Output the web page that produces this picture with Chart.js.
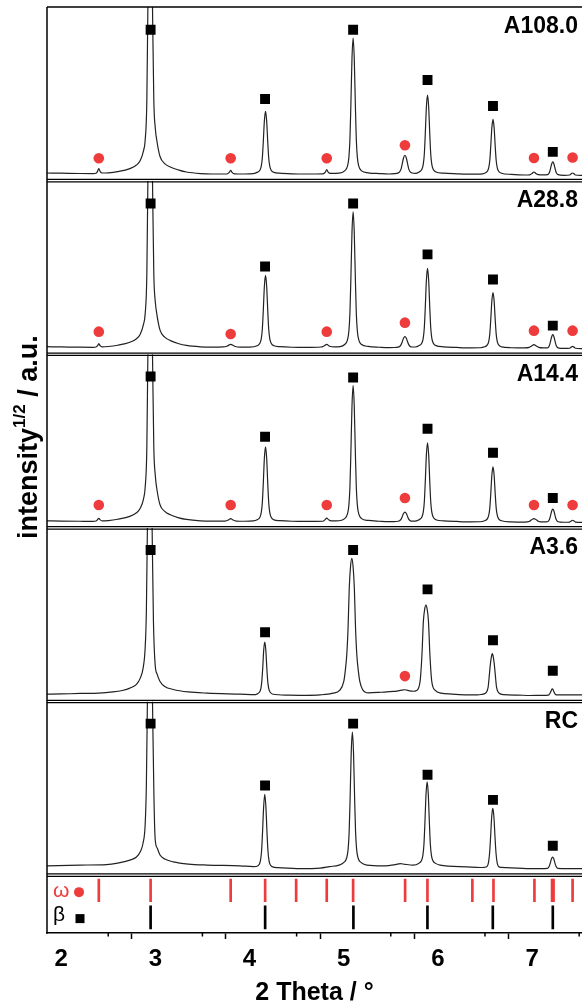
<!DOCTYPE html>
<html>
<head>
<meta charset="utf-8">
<script src="https://cdn.jsdelivr.net/npm/chart.js@4.4.1/dist/chart.umd.min.js"></script>
<style>
  html, body { margin: 0; padding: 0; background: #fff; overflow: hidden; }
  #wrap { position: relative; width: 582px; height: 1006px; }
</style>
</head>
<body>
<div id="wrap"><canvas id="xrd"></canvas></div>
<script>
// ---- data (2 theta in degrees, sqrt intensity in a.u.) ----
var panelLabels = ['A108.0', 'A28.8', 'A14.4', 'A3.6', 'RC'];

var a108 = [[1.85,7.6],[2.0,7.4],[2.2,7.1],[2.34,7.0],[2.37,7.4],[2.385,9],[2.40,12],[2.415,9],[2.435,7.6],[2.5,7.8],[2.6,9.0],[2.73,12],[2.8,15.5],[2.84,20],[2.875,30],[2.892,40],[2.91,80],[2.921,173],[2.945,320],[2.97,173],[2.984,80],[3.0,52],[3.016,40],[3.05,24],[3.1,17],[3.16,13.6],[3.25,10.5],[3.33,8.6],[3.48,7.0],[3.6,6.6],[3.76,6.6],[3.785,8.2],[3.8,10.3],[3.815,8.2],[3.84,6.8],[3.95,6.6],[4.04,7.0],
  [4.08,8.2],[4.11,10.4],[4.125,14.4],[4.136,22.5],[4.146,38],[4.158,59.7],[4.17,69],[4.182,59.7],[4.194,38],[4.204,22.5],[4.215,14.4],[4.23,10.4],[4.26,8.2],
  [4.32,7.4],[4.45,6.8],[4.6,6.6],[4.78,6.8],[4.805,8.5],[4.82,11],[4.835,8.5],[4.86,7.2],[4.95,7.4],
  [5.01,9.7],[5.04,14.4],[5.055,23.2],[5.066,40.8],[5.076,74.5],[5.088,121.8],[5.1,142],[5.112,121.8],[5.124,74.5],[5.134,40.8],[5.145,23.2],[5.16,14.4],[5.19,9.7],
  [5.26,7.8],[5.38,7.0],[5.48,6.6],
  [5.54,6.9],[5.575,7.5],[5.594,8.8],[5.608,11.2],[5.62,15.9],[5.635,22.5],[5.65,25.3],[5.665,22.5],[5.68,15.9],[5.692,11.2],[5.706,8.8],[5.725,7.6],[5.76,7.2],
  [5.8,8.6],[5.83,11.3],[5.845,16.4],[5.856,26.6],[5.866,46.2],[5.878,73.6],[5.89,85.3],[5.902,73.6],[5.914,46.2],[5.924,26.6],[5.935,16.4],[5.95,11.3],[5.98,8.6],
  [6.06,7.4],[6.2,6.8],[6.35,6.4],[6.45,6.5],
  [6.495,7.4],[6.525,9.3],[6.54,12.9],[6.551,20],[6.561,33.7],[6.573,52.8],[6.585,61],[6.597,52.8],[6.609,33.7],[6.619,20],[6.63,12.9],[6.645,9.3],[6.675,7.4],
  [6.78,6.2],[6.92,5.6],[6.975,5.8],[7.0,7.2],[7.02,8.6],[7.04,7.2],[7.065,6.0],[7.12,5.7],
  [7.165,6.0],[7.184,8.1],[7.196,12.1],[7.208,16.6],[7.22,18.6],[7.232,16.6],[7.244,12.1],[7.256,8.1],[7.275,6.0],
  [7.34,5.3],[7.40,5.6],[7.415,6.8],[7.43,7.6],[7.445,6.8],[7.46,5.6],[7.53,5.2]];

var a288 = [[1.85,7.5],[2.0,7.3],[2.2,7.0],[2.34,6.9],[2.37,7.2],[2.385,8.3],[2.40,10.5],[2.415,8.3],[2.435,7.4],[2.5,7.7],[2.6,9.0],[2.73,12],[2.8,15.5],[2.84,20],[2.875,30],[2.892,40],[2.91,80],[2.921,173],[2.945,320],[2.97,173],[2.984,80],[3.0,52],[3.016,40],[3.05,24],[3.1,17],[3.16,13.6],[3.25,10.5],[3.33,8.8],[3.48,7.4],[3.6,7.1],[3.72,7.3],[3.76,8.0],[3.8,9.8],[3.84,8.0],[3.9,7.1],[4.0,7.1],
  [4.08,8.4],[4.11,10.9],[4.125,15.6],[4.136,24.9],[4.146,42.8],[4.158,67.8],[4.17,78.5],[4.182,67.8],[4.194,42.8],[4.204,24.9],[4.215,15.6],[4.23,10.9],[4.26,8.4],
  [4.32,7.6],[4.45,7.0],[4.6,6.8],[4.76,7.2],[4.79,8.2],[4.82,9.8],[4.85,8.0],[4.9,7.3],[4.96,7.6],
  [5.01,9.7],[5.04,14.4],[5.055,23.2],[5.066,40.7],[5.076,74.4],[5.088,121.6],[5.1,141.8],[5.112,121.6],[5.124,74.4],[5.134,40.7],[5.145,23.2],[5.16,14.4],[5.19,9.7],
  [5.26,7.8],[5.38,7.0],[5.48,6.6],
  [5.54,6.7],[5.575,7.1],[5.594,7.8],[5.608,9.3],[5.62,12],[5.635,15.9],[5.65,17.5],[5.665,15.9],[5.68,12],[5.692,9.3],[5.706,7.8],[5.725,7.2],[5.76,7.2],
  [5.8,8.6],[5.83,11.3],[5.845,16.4],[5.856,26.6],[5.866,46.3],[5.878,73.7],[5.89,85.5],[5.902,73.7],[5.914,46.3],[5.924,26.6],[5.935,16.4],[5.95,11.3],[5.98,8.6],
  [6.06,7.4],[6.2,6.8],[6.35,6.4],[6.45,6.5],
  [6.495,7.4],[6.525,9.3],[6.54,12.9],[6.551,20.1],[6.561,33.9],[6.573,53.2],[6.585,61.5],[6.597,53.2],[6.609,33.9],[6.619,20.1],[6.63,12.9],[6.645,9.3],[6.675,7.4],
  [6.78,6.5],[6.92,6.3],[6.97,6.8],[6.995,8.2],[7.02,9.5],[7.045,8.2],[7.07,6.8],[7.12,6.3],
  [7.165,6.4],[7.184,8.7],[7.196,12.8],[7.208,17.5],[7.22,19.5],[7.232,17.5],[7.244,12.8],[7.256,8.7],[7.275,6.4],
  [7.34,5.8],[7.40,6.0],[7.415,7.1],[7.43,7.8],[7.445,7.1],[7.46,6.0],[7.53,5.6]];

var a144 = [[1.85,7.0],[2.0,6.8],[2.2,6.6],[2.34,6.5],[2.37,6.8],[2.385,8.0],[2.40,9.5],[2.415,8.0],[2.435,7.0],[2.5,7.3],[2.6,8.6],[2.73,11.5],[2.8,15],[2.84,19.5],[2.875,29],[2.892,40],[2.91,80],[2.921,173],[2.945,320],[2.97,173],[2.984,80],[3.0,52],[3.016,39],[3.05,23],[3.1,16.5],[3.16,13],[3.25,10],[3.33,8.4],[3.48,7.0],[3.6,6.7],[3.74,6.8],[3.775,7.8],[3.8,9.2],[3.825,7.8],[3.86,6.8],[3.95,6.6],[4.04,6.9],
  [4.08,8.0],[4.11,10.6],[4.125,15.4],[4.136,25.1],[4.146,43.6],[4.158,69.6],[4.17,80.75],[4.182,69.6],[4.194,43.6],[4.204,25.1],[4.215,15.4],[4.23,10.6],[4.26,8.0],
  [4.32,7.2],[4.45,6.6],[4.6,6.4],[4.78,6.6],[4.8,8.0],[4.82,9.8],[4.84,8.0],[4.87,6.9],[4.95,7.1],
  [5.01,9.2],[5.04,13.9],[5.055,22.7],[5.066,40.3],[5.076,74.1],[5.088,121.5],[5.1,141.75],[5.112,121.5],[5.124,74.1],[5.134,40.3],[5.145,22.7],[5.16,13.9],[5.19,9.2],
  [5.26,7.4],[5.38,6.6],[5.48,6.2],
  [5.54,6.3],[5.575,6.6],[5.594,7.2],[5.608,8.4],[5.62,10.9],[5.635,14.3],[5.65,15.75],[5.665,14.3],[5.68,10.9],[5.692,8.4],[5.706,7.2],[5.725,6.7],[5.76,6.8],
  [5.8,8.1],[5.83,10.8],[5.845,15.9],[5.856,26.1],[5.866,45.6],[5.878,73],[5.89,84.75],[5.902,73],[5.914,45.6],[5.924,26.1],[5.935,15.9],[5.95,10.8],[5.98,8.1],
  [6.06,7.0],[6.2,6.4],[6.35,6.0],[6.45,6.1],
  [6.495,7.1],[6.525,9.0],[6.54,12.6],[6.551,19.7],[6.561,33.4],[6.573,52.5],[6.585,60.75],[6.597,52.5],[6.609,33.4],[6.619,19.7],[6.63,12.6],[6.645,9.0],[6.675,7.1],
  [6.78,6.0],[6.92,5.8],[6.97,6.3],[6.995,8.0],[7.02,9.3],[7.045,8.0],[7.07,6.4],[7.12,5.9],
  [7.165,6.1],[7.184,8.3],[7.196,12.2],[7.208,16.75],[7.22,18.75],[7.232,16.75],[7.244,12.2],[7.256,8.3],[7.275,6.1],
  [7.34,5.6],[7.40,5.8],[7.415,6.9],[7.43,7.6],[7.445,6.9],[7.46,5.8],[7.53,5.5]];

var a36 = [[1.85,7.3],[2.0,7.5],[2.2,8.0],[2.4,8.3],[2.55,9.5],[2.65,11],[2.73,13.3],[2.8,17],[2.84,23.3],[2.87,33],[2.892,53.3],[2.905,90],[2.916,173],[2.942,320],[2.966,173],[2.98,80],[2.998,37],[3.02,27],[3.05,20],[3.1,15],[3.19,12],[3.35,9.5],[3.55,8.3],[3.9,7.3],[4.06,6.8],
  [4.075,7.3],[4.105,9.2],[4.12,12.5],[4.13,19.5],[4.14,32.9],[4.151,51.4],[4.162,59.3],[4.173,51.4],[4.184,32.9],[4.194,19.5],[4.205,12.5],[4.22,9.2],[4.25,7.2],
  [4.4,6.4],[4.6,6.2],[4.75,6.6],[4.887,8.3],
  [4.956,11],[5.001,20],[5.016,30],[5.033,47],[5.047,75],[5.059,113],[5.073,135],[5.086,142.7],[5.099,135],[5.113,113],[5.125,75],[5.139,47],[5.156,30],[5.171,20],[5.2,12],[5.26,8.6],
  [5.4,9.2],[5.53,10],[5.6,11],[5.65,11.7],[5.7,10.6],[5.74,10.2],
  [5.773,11],[5.811,20],[5.831,47],[5.846,80],[5.86,92],[5.873,96],[5.886,92],[5.9,80],[5.915,47],[5.935,20],[5.973,11],[6.033,8.3],
  [6.15,7.4],[6.31,6.7],[6.42,6.7],
  [6.458,7.0],[6.508,8.5],[6.533,14],[6.546,26],[6.557,37],[6.567,44],[6.578,47.7],[6.589,44],[6.599,37],[6.61,26],[6.623,14],[6.648,8.5],[6.698,6.8],
  [6.85,6.4],[6.97,6.0],[7.1,6.1],
  [7.175,6.4],[7.195,9],[7.205,11.3],[7.215,12.7],[7.225,11.3],[7.235,9],[7.255,6.6],
  [7.35,6.7],[7.53,6.7]];

var rc = [[1.85,9.25],[2.2,10],[2.48,10.5],[2.6,12],[2.73,15],[2.8,18],[2.84,23.25],[2.87,32],[2.892,50],[2.905,90],[2.916,173],[2.945,320],[2.97,173],[2.985,80],[2.998,36.5],[3.02,27],[3.05,20],[3.1,16],[3.19,13.25],[3.35,11],[3.55,10],[3.9,9.25],[4.04,8.5],
  [4.072,8.6],[4.102,10.5],[4.117,15],[4.128,24],[4.138,42],[4.15,68],[4.162,80.5],[4.174,68],[4.186,42],[4.196,24],[4.207,14.5],[4.222,10],[4.252,8],
  [4.3,7.5],[4.54,6.4],[4.75,7],[4.85,8.5],[4.95,10],
  [5.002,12.65],[5.032,17.3],[5.047,25.9],[5.058,43.1],[5.068,76.25],[5.08,122.6],[5.092,142.5],[5.104,122.6],[5.116,76.25],[5.126,43.1],[5.137,25.9],[5.152,17.3],[5.182,12.65],
  [5.245,10],[5.42,9.25],[5.55,10.5],[5.6,11.5],[5.65,10.8],[5.74,10],
  [5.796,11.7],[5.826,14.6],[5.841,20],[5.852,30.75],[5.862,51.5],[5.874,80.5],[5.886,93],[5.898,80.5],[5.91,51.5],[5.92,30.75],[5.931,20],[5.946,14.6],[5.976,11.7],
  [6.023,10],[6.307,8.25],[6.45,7.6],
  [6.493,7.8],[6.523,8.8],[6.538,13],[6.549,22],[6.559,37],[6.571,57.7],[6.583,66.5],[6.595,57.7],[6.607,37],[6.617,22],[6.628,13],[6.643,8.8],[6.673,7.7],
  [6.731,7.5],[7.014,6.5],
  [7.163,6.8],[7.182,8.8],[7.194,12.25],[7.206,16.3],[7.218,18],[7.23,16.3],[7.242,12.25],[7.254,8.8],[7.273,6.8],
  [7.368,6.5],[7.53,6.5]];

// phase markers above the peaks (null = no marker in that pattern)
var betaMarkX  = [2.95, 4.165, 5.10, 5.89, 6.585, 7.22];
var omegaMarkX = [2.40, 3.80, 4.82, 5.65, 7.02, 7.43];
var betaMarkY = [
  [150.3, 81.3, 150.3, 100.3, 74.3, 28.6],
  [150.2, 87.5, 150.2, 99.5, 74.5, 28.5],
  [150.8, 90.8, 149.8, 98.8, 74.8, 29.8],
  [151, 69, 151, 111.7, 61, 30.7],
  [151, 89.3, 151, 100, 75, 29.3]
];
var omegaMarkY = [
  [22.3, 22.3, 22.3, 35.3, 22.6, 23],
  [22.5, 20.2, 22.5, 31.5, 23.5, 23.5],
  [22.8, 22.8, 22.8, 29.8, 22.8, 22.8],
  [null, null, null, 25.3, null, null],
  [null, null, null, null, null, null]
];

// reference reflection positions (bottom strip)
var omegaRef = [2.40, 2.95, 3.80, 4.166, 4.495, 4.82, 5.10, 5.652, 5.889, 6.366, 6.59, 7.025, 7.212, 7.228, 7.43];
var betaRef  = [2.95, 4.166, 5.103, 5.889, 6.583, 7.22];
var omegaSpan = [0.54, 0.93];
var betaSpan  = [0.07, 0.47];

var curves = [a108, a288, a144, a36, rc];
var panelIds = ['y1', 'y2', 'y3', 'y4', 'y5'];
var RED = '#ee3b3b';
var FONT = "'Liberation Sans', Arial, sans-serif";

Chart.defaults.font.family = FONT;
Chart.defaults.color = '#000';

var datasets = [];
curves.forEach(function (c, p) {
  datasets.push({
    type: 'scatter',
    data: betaMarkX.map(function (x, i) { return { x: x, y: betaMarkY[p][i] }; }).filter(function (d) { return d.y !== null; }),
    yAxisID: panelIds[p],
    pointStyle: 'rect', pointRadius: 7, backgroundColor: '#000', borderWidth: 0,
    order: 0
  });
  datasets.push({
    type: 'scatter',
    data: omegaMarkX.map(function (x, i) { return { x: x, y: omegaMarkY[p][i] }; }).filter(function (d) { return d.y !== null; }),
    yAxisID: panelIds[p],
    pointStyle: 'circle', pointRadius: 5.3, backgroundColor: RED, borderWidth: 0,
    order: 0
  });
  datasets.push({
    type: 'line',
    data: c,
    yAxisID: panelIds[p],
    borderColor: '#222', borderWidth: 1.2,
    pointRadius: 0, fill: false,
    cubicInterpolationMode: 'monotone',
    order: 1
  });
});
datasets.push({
  type: 'bar',
  data: omegaRef.map(function (x) { return { x: x, y: omegaSpan }; }),
  yAxisID: 'yr', backgroundColor: RED, barThickness: 2, grouped: false, order: 1
});
datasets.push({
  type: 'bar',
  data: betaRef.map(function (x) { return { x: x, y: betaSpan }; }),
  yAxisID: 'yr', backgroundColor: '#000', barThickness: 2, grouped: false, order: 1
});

function hiddenY(max, weight, sw) {
  return {
    type: 'linear', min: 0, max: max, stack: 'xrd', stackWeight: sw, weight: weight,
    ticks: { display: false }, grid: { display: false, drawTicks: false }, border: { display: false }
  };
}

var scales = {
  x: {
    type: 'linear', min: 1.85, max: 7.53, offset: false,
    afterFit: function (scale) { scale.paddingLeft = 0; scale.paddingRight = 0; },
    ticks: {
      stepSize: 0.5, includeBounds: false, autoSkip: false, maxRotation: 0, padding: 8,
      font: { size: 24, weight: 'bold', lineHeight: 1 },
      callback: function (v) { return Number.isInteger(v) ? v : ''; }
    },
    grid: {
      drawOnChartArea: false, tickLength: 6, tickWidth: 1.5,
      tickColor: function (ctx) { return ctx.tick && Number.isInteger(ctx.tick.value) ? '#000' : 'rgba(0,0,0,0)'; }
    },
    border: { display: true, color: '#000', width: 1.5 },
    title: { display: true, text: '2 Theta / °', font: { size: 25, weight: 'bold', lineHeight: 1 }, padding: { top: 2, bottom: 0 } }
  }
};
panelIds.forEach(function (id, p) { scales[id] = hiddenY(173, 10 - p, 3); });
scales.yr = hiddenY(1, 1, 1);

// panel frames, labels, clipping and the y title
var decor = {
  id: 'decor',
  beforeDatasetDraw: function (chart, args) {
    var s = chart.scales[args.meta.yAxisID], a = chart.chartArea, ctx = chart.ctx;
    ctx.save();
    ctx.beginPath();
    ctx.rect(a.left, s.top, a.right - a.left, s.bottom - s.top);
    ctx.clip();
  },
  afterDatasetDraw: function (chart) { chart.ctx.restore(); },
  afterDraw: function (chart) {
    var ctx = chart.ctx, a = chart.chartArea, xs = chart.scales.x;
    ctx.save();
    ctx.strokeStyle = '#000';
    ctx.lineWidth = 1.3;
    function hline(y) { ctx.beginPath(); ctx.moveTo(a.left, y); ctx.lineTo(a.right, y); ctx.stroke(); }
    panelIds.forEach(function (id, p) {
      var s = chart.scales[id];
      hline(p === 0 ? s.top : s.top + 1.2);
      hline(s.bottom - 1.2);
    });
    hline(chart.scales.yr.top + 1.2);
    ctx.lineWidth = 1.5;
    ctx.beginPath(); ctx.moveTo(a.left, a.top); ctx.lineTo(a.left, a.bottom + 0.75); ctx.stroke();

    // minor ticks
    xs.ticks.forEach(function (t) {
      if (Number.isInteger(t.value)) return;
      var px = xs.getPixelForValue(t.value);
      ctx.beginPath(); ctx.moveTo(px, a.bottom); ctx.lineTo(px, a.bottom + 3.5); ctx.stroke();
    });

    // panel labels
    ctx.fillStyle = '#000';
    ctx.font = 'bold 23px ' + FONT;
    ctx.textAlign = 'right';
    ctx.textBaseline = 'middle';
    panelIds.forEach(function (id, p) {
      ctx.fillText(panelLabels[p], a.right - 4, chart.scales[id].top + 20);
    });

    // reference strip legend
    var r = chart.scales.yr;
    ctx.textAlign = 'left';
    ctx.textBaseline = 'alphabetic';
    ctx.font = '21px ' + FONT;
    ctx.fillStyle = RED;
    ctx.fillText('ω', a.left + 6, r.top + 22);
    ctx.beginPath(); ctx.arc(a.left + 32, r.top + 17, 5, 0, Math.PI * 2); ctx.fill();
    ctx.fillStyle = '#000';
    ctx.fillText('β', a.left + 6, r.top + 46);
    ctx.fillRect(a.left + 28.5, r.top + 39, 9, 9);

    // y axis title with superscript
    var top = chart.scales.y1.top, bot = chart.scales.y5.bottom;
    var t1 = 'intensity', t2 = '1/2', t3 = ' / a.u.';
    var f1 = 'bold 27px ' + FONT, f2 = 'bold 17px ' + FONT;
    ctx.font = f1; var w1 = ctx.measureText(t1).width, w3 = ctx.measureText(t3).width;
    ctx.font = f2; var w2 = ctx.measureText(t2).width;
    var total = w1 + w2 + w3;
    ctx.translate(30, (top + bot) / 2 - 4);
    ctx.rotate(-Math.PI / 2);
    ctx.textBaseline = 'middle';
    ctx.textAlign = 'left';
    var x0 = -total / 2;
    ctx.font = f1; ctx.fillText(t1, x0, 0);
    ctx.font = f2; ctx.fillText(t2, x0 + w1, -10);
    ctx.font = f1; ctx.fillText(t3, x0 + w1 + w2, 0);
    ctx.restore();
  }
};

new Chart(document.getElementById('xrd').getContext('2d'), {
  type: 'line',
  data: { datasets: datasets },
  options: {
    responsive: true,
    maintainAspectRatio: false,
    animation: false,
    events: [],
    layout: { autoPadding: false, padding: { left: 47, top: 7, right: 0, bottom: 0 } },
    plugins: { legend: { display: false }, tooltip: { enabled: false } },
    scales: scales
  },
  plugins: [decor]
});
</script>
</body>
</html>
